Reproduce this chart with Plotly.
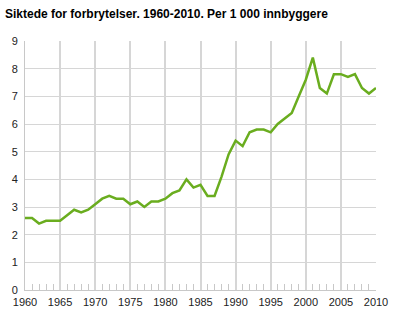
import plotly.graph_objects as go

years = list(range(1960, 2011))
values = [2.6, 2.6, 2.4, 2.5, 2.5, 2.5, 2.7, 2.9, 2.8, 2.9,
          3.1, 3.3, 3.4, 3.3, 3.3, 3.1, 3.2, 3.0, 3.2, 3.2,
          3.3, 3.5, 3.6, 4.0, 3.7, 3.8, 3.4, 3.4, 4.1, 4.9,
          5.4, 5.2, 5.7, 5.8, 5.8, 5.7, 6.0, 6.2, 6.4, 7.0,
          7.6, 8.4, 7.3, 7.1, 7.8, 7.8, 7.7, 7.8, 7.3, 7.1,
          7.3]
title_text = "Siktede for forbrytelser. 1960-2010. Per 1 000 innbyggere"

fig = go.Figure()
fig.add_trace(go.Scatter(x=years, y=values, mode="lines",
                         line=dict(color="#6AAD1F", width=2.5),
                         hoverinfo="skip"))

fig.update_layout(
    width=400, height=320,
    margin=dict(l=21, r=22, t=41, b=25),
    paper_bgcolor="white", plot_bgcolor="white",
    showlegend=False,
    font=dict(family="Liberation Sans, Arial, sans-serif", size=11, color="#222"),
    title=dict(text="<b>" + title_text + "</b>", x=5/400, xanchor="left",
               y=1 - 14/320, yanchor="middle",
               font=dict(size=12, color="#000")),
    xaxis=dict(range=[1960, 2010], tickmode="linear", tick0=1960, dtick=5,
               showgrid=True, gridcolor="#d6d6d6", gridwidth=1.5,
               zeroline=False, showline=True, linecolor="#c8c8c8", linewidth=1,
               ticks="", ticklen=0, ticklabelstandoff=2,
               minor=dict(dtick=1, tick0=1960, ticks="inside", ticklen=6,
                          tickcolor="#c8c8c8", showgrid=False),
               tickfont=dict(size=11, color="#222"), fixedrange=True),
    yaxis=dict(range=[0, 9], tickmode="linear", tick0=0, dtick=1,
               showgrid=True, gridcolor="#d6d6d6", gridwidth=1,
               zeroline=False, showline=True, linecolor="#c8c8c8", linewidth=1,
               ticks="", ticklabelstandoff=4,
               tickfont=dict(size=11, color="#222"), fixedrange=True),
)

fig.write_html("out.html", config={"displayModeBar": False})
